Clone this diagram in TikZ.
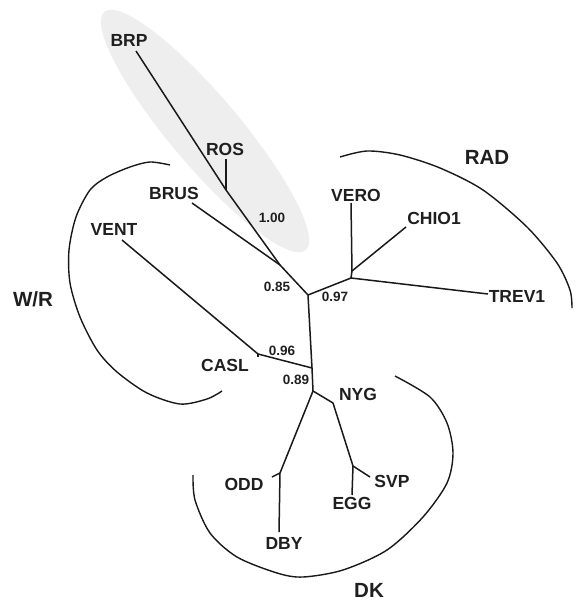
\documentclass[tikz,border=0pt]{standalone}
\usepackage{fontspec}
\setmainfont{Liberation Sans}
\begin{document}
\begin{tikzpicture}[x=1pt,y=-1pt,
  edge/.style={line width=1.5pt,black!90},
  arcline/.style={line width=1.4pt,black!90},
  leaf/.style={inner sep=0pt,text=black!88,font=\fontsize{17.5}{18}\selectfont\bfseries},
  boot/.style={inner sep=0pt,text=black!88,font=\fontsize{13.5}{14}\selectfont\bfseries},
  grp/.style={inner sep=0pt,text=black!88,font=\fontsize{20.5}{22}\selectfont\bfseries}]
\useasboundingbox (0,0) rectangle (576,600);
% shaded clade
\fill[gray!13] (205,131) ellipse[x radius=156,y radius=35,rotate=-49.8];
% internal nodes and tips
\coordinate (brp) at (136,51);
\coordinate (ros) at (226,159);
\coordinate (rosj) at (226,190);
\coordinate (a) at (280,265);
\coordinate (brus) at (192,203);
\coordinate (b) at (308,295);
\coordinate (c) at (351,278);
\coordinate (vero) at (351,203);
\coordinate (chioj) at (352,271);
\coordinate (chio) at (406,227);
\coordinate (trev) at (488,294);
\coordinate (e) at (312,368);
\coordinate (g) at (258,354);
\coordinate (vent) at (122,240);
\coordinate (casl) at (258,357);
\coordinate (f) at (313,391);
\coordinate (h) at (333,403);
\coordinate (i) at (353,466);
\coordinate (svp) at (370,477);
\coordinate (egg) at (352,495);
\coordinate (j) at (280,473);
\coordinate (odd) at (272,477);
\coordinate (dby) at (279,532);
% tree
\draw[edge] (brp) -- (rosj) -- (a) -- (b);
\draw[edge] (rosj) -- (ros);
\draw[edge] (a) -- (brus);
\draw[edge] (b) -- (c) -- (chioj) -- (vero);
\draw[edge] (chioj) -- (chio);
\draw[edge] (c) -- (trev);
\draw[edge] (b) -- (e) -- (f);
\draw[edge] (e) -- (g) -- (vent);
\draw[edge] (g) -- (casl);
\draw[edge] (f) -- (h) -- (i) -- (svp);
\draw[edge] (i) -- (egg);
\draw[edge] (f) -- (j) -- (dby);
\draw[edge] (j) -- (odd);
% leaf labels
\node[leaf] (tBRP) at (129,40) {BRP};
\node[leaf] (tROS) at (225,149) {ROS};
\node[leaf] (tBRUS) at (174,193) {BRUS};
\node[leaf] (tVENT) at (114,229) {VENT};
\node[leaf] (tCASL) at (225,365) {CASL};
\node[leaf] (tVERO) at (356,195) {VERO};
\node[leaf] (tCHIO) at (434,218) {CHIO1};
\node[leaf] (tTREV) at (517,296) {TREV1};
\node[leaf] (tNYG) at (358,394) {NYG};
\node[leaf] (tODD) at (244,484) {ODD};
\node[leaf] (tSVP) at (392,481) {SVP};
\node[leaf] (tEGG) at (352,503) {EGG};
\node[leaf] (tDBY) at (284,543) {DBY};
% support values
\node[boot] (s100) at (272,218) {1.00};
\node[boot] (s085) at (277,287) {0.85};
\node[boot] (s097) at (335,297) {0.97};
\node[boot] (s096) at (282,351) {0.96};
\node[boot] (s089) at (296,380) {0.89};
% group labels
\node[grp] (gRAD) at (487,157) {RAD};
\node[grp] (gWR) at (33,299) {W/R};
\node[grp] (gDK) at (369,590) {DK};
% group arcs
\draw[arcline] plot[smooth] coordinates {(340,157) (367,151) (400,155) (440,168) (483,190) (527,227) (557,263) (570,290) (572,308)};
\draw[arcline] plot[smooth] coordinates {(170,165) (150,162) (130,167) (107,177) (90,190) (76,217) (69,250) (70,283) (80,317) (97,350) (117,372) (147,393) (180,404) (207,399) (222,391)};
\draw[arcline] plot[smooth] coordinates {(193,475) (195,500) (210,533) (237,557) (277,573) (303,577) (343,570) (387,550) (423,517) (447,483) (453,453) (447,423) (430,397) (395,376)};
\end{tikzpicture}
\end{document}
